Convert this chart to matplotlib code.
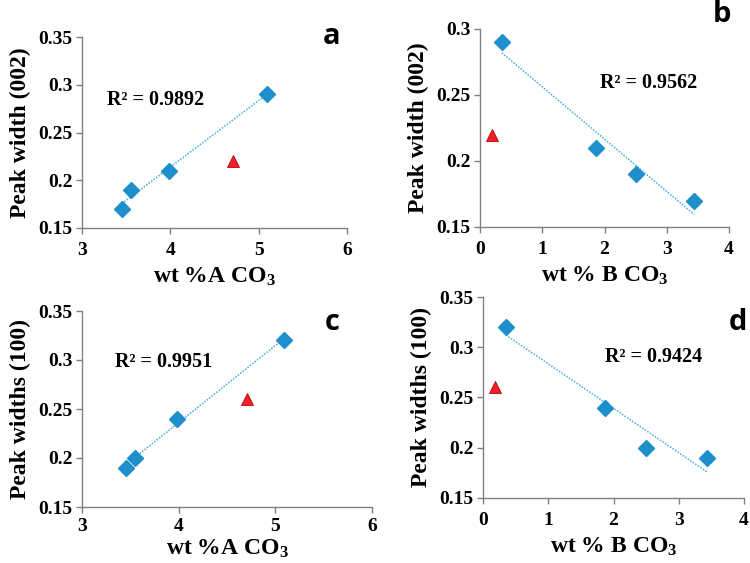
import numpy as np
import matplotlib
matplotlib.use("Agg")
import matplotlib.pyplot as plt

plt.rcParams['font.family'] = ['Liberation Serif', 'DejaVu Serif']
plt.rcParams['font.weight'] = 'bold'
plt.rcParams['mathtext.fontset'] = 'custom'
plt.rcParams['mathtext.rm'] = 'Liberation Serif:bold'
plt.rcParams['mathtext.default'] = 'rm'

# Data
xA = [3.45, 3.55, 3.98, 5.09]
xB = [0.35, 1.87, 2.50, 3.44]
y002_A = [0.17, 0.19, 0.21, 0.29]
y002_B = [0.29, 0.21, 0.19, 0.17]
y100_A = [0.19, 0.20, 0.24, 0.32]
y100_B = [0.32, 0.24, 0.20, 0.19]
tri_xA = 4.71
tri_xB = 0.19
tri_y002 = 0.22
tri_y100 = 0.26
r2_texts = ["R² = 0.9892", "R² = 0.9562", "R² = 0.9951", "R² = 0.9424"]
letters = ["a", "b", "c", "d"]

W, H = 750, 563
fig = plt.figure(figsize=(7.5, 5.63), dpi=100)

def ax_at(l, t, r, b):
    return fig.add_axes([l / W, 1 - b / H, (r - l) / W, (b - t) / H])

BLUE = '#1E8FCB'
TRI = '#F0202A'
TREND = '#3DB1DE'

panels = [
    dict(box=(82, 37, 347, 228), x=xA, y=y002_A, tx=tri_xA, ty=tri_y002, xlim=(3, 6), xt=[3, 4, 5, 6],
         ylim=(0.15, 0.35), yt=[0.15, 0.2, 0.25, 0.3, 0.35], ylabel='Peak width (002)', xlabel=r'wt %A CO$_3$',
         r2pos=(107, 100), letpos=(332, 36), xpad=6, lpad=5),
    dict(box=(480, 29, 729, 227), x=xB, y=y002_B, tx=tri_xB, ty=tri_y002, xlim=(0, 4), xt=[0, 1, 2, 3, 4],
         ylim=(0.15, 0.30), yt=[0.15, 0.2, 0.25, 0.3], ylabel='Peak width (002)', xlabel=r'wt % B CO$_3$',
         r2pos=(600, 83), letpos=(722, 15), xpad=6, lpad=5),
    dict(box=(82, 311, 372, 507), x=xA, y=y100_A, tx=tri_xA, ty=tri_y100, xlim=(3, 6), xt=[3, 4, 5, 6],
         ylim=(0.15, 0.35), yt=[0.15, 0.2, 0.25, 0.3, 0.35], ylabel='Peak widths (100)', xlabel=r'wt %A CO$_3$',
         r2pos=(115, 362), letpos=(332, 323), xpad=4, lpad=2),
    dict(box=(483, 297, 744, 498), x=xB, y=y100_B, tx=tri_xB, ty=tri_y100, xlim=(0, 4), xt=[0, 1, 2, 3, 4],
         ylim=(0.15, 0.35), yt=[0.15, 0.2, 0.25, 0.3, 0.35], ylabel='Peak widths (100)', xlabel=r'wt % B CO$_3$',
         r2pos=(605, 357), letpos=(738, 322), xpad=6, lpad=5),
]

for i, p in enumerate(panels):
    ax = ax_at(*p['box'])
    ax.set_xlim(*p['xlim'])
    ax.set_ylim(*p['ylim'])
    ax.set_xticks(p['xt'])
    ax.set_xticklabels([str(v) for v in p['xt']])
    ax.set_yticks(p['yt'])
    ax.set_yticklabels([('%g' % v) for v in p['yt']])
    for s in ['top', 'right']:
        ax.spines[s].set_visible(False)
    for s in ['left', 'bottom']:
        ax.spines[s].set_color('#808080')
        ax.spines[s].set_linewidth(1.0)
    ax.tick_params(axis='both', direction='out', length=4, width=1, color='#808080',
                   labelsize=14, pad=3)
    ax.tick_params(axis='x', pad=p['xpad'])
    for lab in ax.get_xticklabels() + ax.get_yticklabels():
        lab.set_fontweight('bold')
    # trendline
    xs = np.array(p['x'])
    ys = np.array(p['y'])
    m, c = np.polyfit(xs, ys, 1)
    xl = np.array([xs.min(), xs.max()])
    ax.plot(xl, m * xl + c, linestyle=(0, (1, 1)), color=TREND, linewidth=1.1, zorder=2)
    ax.plot(xs, ys, linestyle='none', marker='D', markersize=8, color=BLUE,
            markeredgecolor=BLUE, zorder=3, clip_on=False)
    ax.plot([p['tx']], [p['ty']], linestyle='none', marker='^', markersize=9,
            color=TRI, markeredgecolor='#C00000', markeredgewidth=0.6, zorder=3, clip_on=False)
    ax.set_ylabel(p['ylabel'], fontsize=17, fontweight='bold', labelpad=5)
    ax.set_xlabel(p['xlabel'], fontsize=17, fontweight='bold', labelpad=p['lpad'])
    rx, ry = p['r2pos']
    fig.text(rx / W, 1 - ry / H, r2_texts[i], fontsize=14.5, fontweight='bold',
             ha='left', va='center', family=['Liberation Serif', 'DejaVu Serif'])
    lx, ly = p['letpos']
    fig.text(lx / W, 1 - ly / H, letters[i], fontsize=21, fontweight='bold',
             ha='center', va='center', family=['Open Sans', 'DejaVu Sans'])

fig.savefig('out.png', dpi=100)
